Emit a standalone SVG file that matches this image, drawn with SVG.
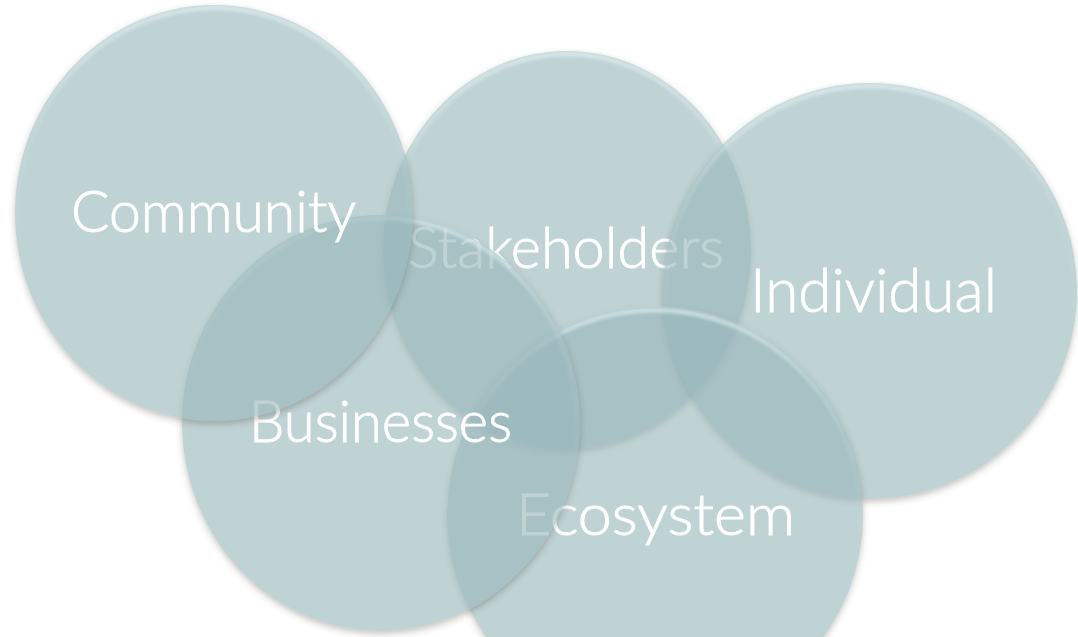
<svg xmlns="http://www.w3.org/2000/svg" width="1078" height="637" viewBox="0 0 1078 637">
  <defs>
    <filter id="shadow" x="-10%" y="-10%" width="120%" height="125%">
      <feGaussianBlur in="SourceAlpha" stdDeviation="3"/>
      <feOffset dx="0" dy="3" result="b"/>
      <feComposite in="b" in2="SourceAlpha" operator="out" result="o"/>
      <feFlood flood-color="#4a3f38" flood-opacity="0.3"/>
      <feComposite in2="o" operator="in"/>
    </filter>
    <filter id="soft" x="-5%" y="-5%" width="110%" height="110%">
      <feGaussianBlur stdDeviation="1.8"/>
    </filter>
    <linearGradient id="rim" x1="0" y1="0" x2="0" y2="1">
      <stop offset="0" stop-color="#e4f2f4" stop-opacity="0.6"/>
      <stop offset="0.3" stop-color="#e4f2f4" stop-opacity="0.12"/>
      <stop offset="0.6" stop-color="#e4f2f4" stop-opacity="0"/>
    </linearGradient>
  </defs>
  <style>
    .sh { fill: #000; filter: url(#shadow); }
    .disc { fill: #97b6ba; fill-opacity: 0.62; }
    .rim { fill: none; stroke: url(#rim); stroke-width: 5; filter: url(#soft); }
    .lbl { font-family: "Lato Light", Lato, "Open Sans", "Liberation Sans", sans-serif; font-weight: 300; font-size: 57px; fill: #ffffff; stroke: #ffffff; stroke-width: 0.9px; }
  </style>
  <rect width="1078" height="637" fill="#ffffff"/>

  <g id="stakeholders">
    <ellipse class="sh" cx="567" cy="250" rx="184" ry="199"/>
    <ellipse class="disc" cx="567" cy="250" rx="184" ry="199"/>
    <ellipse class="rim" cx="567" cy="250" rx="181" ry="196"/>
    <text class="lbl" x="408" y="268" textLength="316" lengthAdjust="spacingAndGlyphs">Stakeholders</text>
  </g>

  <g id="individual">
    <ellipse class="sh" cx="870" cy="291" rx="207" ry="208"/>
    <ellipse class="disc" cx="870" cy="291" rx="207" ry="208"/>
    <ellipse class="rim" cx="870" cy="291" rx="204" ry="205"/>
    <text class="lbl" x="750" y="312" style="font-size:62px" textLength="247" lengthAdjust="spacingAndGlyphs">Individual</text>
  </g>

  <g id="ecosystem">
    <ellipse class="sh" cx="655" cy="515" rx="208" ry="208"/>
    <ellipse class="disc" cx="655" cy="515" rx="208" ry="208"/>
    <ellipse class="rim" cx="655" cy="515" rx="205" ry="205"/>
    <text class="lbl" x="516" y="535" textLength="279" lengthAdjust="spacingAndGlyphs">Ecosystem</text>
  </g>

  <g id="businesses">
    <ellipse class="sh" cx="381" cy="423" rx="199" ry="208"/>
    <ellipse class="disc" cx="381" cy="423" rx="199" ry="208"/>
    <ellipse class="rim" cx="381" cy="423" rx="196" ry="205"/>
    <text class="lbl" x="249" y="442" textLength="263" lengthAdjust="spacingAndGlyphs">Businesses</text>
  </g>

  <g id="community">
    <ellipse class="sh" cx="214" cy="213" rx="199" ry="208"/>
    <ellipse class="disc" cx="214" cy="213" rx="199" ry="208"/>
    <ellipse class="rim" cx="214" cy="213" rx="196" ry="205"/>
    <text class="lbl" x="71" y="232" textLength="285" lengthAdjust="spacingAndGlyphs">Community</text>
  </g>
</svg>
